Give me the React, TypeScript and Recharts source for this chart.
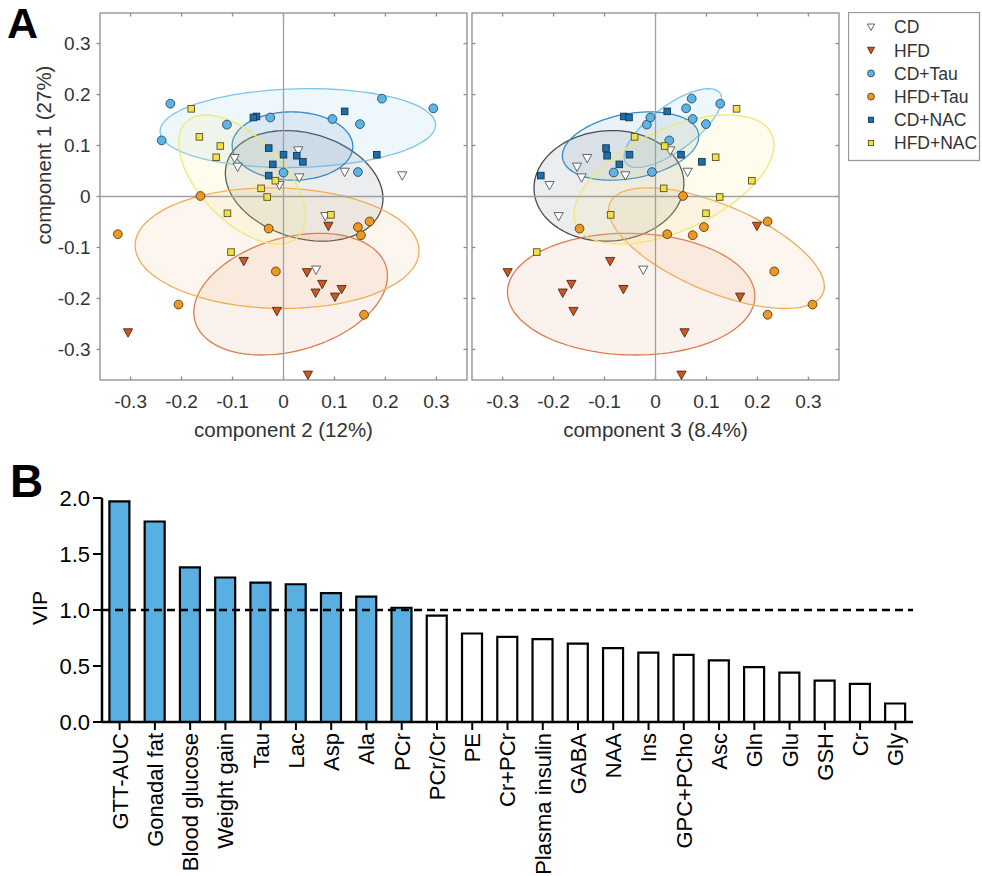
import React from 'react';
import {
  Bar,
  BarChart,
  Cell,
  Customized,
  ReferenceArea,
  ReferenceLine,
  Scatter,
  ScatterChart,
  XAxis,
  YAxis,
} from 'recharts';

// PLS-DA scores: comp1 is the vertical axis of both panels,
// comp2 the horizontal axis of the left panel, comp3 of the right one.
const cdComp1 = [0.09, 0.075, 0.058, 0.037, 0.048, 0.041, 0.022, -0.039, -0.144];
const cdComp2 = [0.029, -0.096, -0.09, 0.031, 0.12, 0.233, -0.008, 0.082, 0.064];
const cdComp3 = [0.029, -0.134, -0.154, -0.145, 0.063, -0.059, -0.208, -0.19, -0.024];

const hfdComp1 = [-0.058, -0.127, -0.149, -0.172, -0.189, -0.182, -0.197, -0.225, -0.267, -0.35];
const hfdComp2 = [0.088, -0.078, 0.046, 0.076, 0.063, 0.114, 0.101, -0.013, -0.305, 0.048];
const hfdComp3 = [0.199, -0.089, -0.29, -0.165, -0.182, -0.063, 0.166, -0.161, 0.057, 0.051];

const cdTauComp1 = [0.182, 0.192, 0.173, 0.11, 0.141, 0.155, 0.152, 0.142, 0.047, 0.048];
const cdTauComp2 = [-0.222, 0.193, 0.294, -0.239, -0.111, -0.026, 0.096, 0.15, 0.0, 0.146];
const cdTauComp3 = [0.127, 0.071, 0.06, 0.027, -0.017, -0.01, 0.073, 0.099, -0.082, -0.007];

const hfdTauComp1 = [0.001, -0.074, -0.063, -0.06, -0.049, -0.076, -0.147, -0.212, -0.232];
const hfdTauComp2 = [-0.163, -0.325, -0.029, 0.146, 0.169, 0.152, -0.015, -0.206, 0.158];
const hfdTauComp3 = [0.054, 0.023, -0.149, 0.095, 0.22, 0.073, 0.233, 0.308, 0.22];

const cdNacComp1 = [0.157, 0.155, 0.167, 0.095, 0.08, 0.082, 0.082, 0.063, 0.068, 0.041];
const cdNacComp2 = [-0.053, -0.059, 0.12, -0.029, 0.026, 0.0, 0.183, -0.021, 0.038, -0.029];
const cdNacComp3 = [-0.062, -0.052, 0.023, -0.097, -0.095, -0.051, 0.05, -0.071, 0.091, -0.225];

const hfdNacComp1 = [0.172, 0.117, 0.099, 0.077, 0.031, 0.016, -0.001, -0.033, -0.036, -0.109];
const hfdNacComp2 = [-0.181, -0.165, -0.124, -0.132, -0.016, -0.044, -0.032, -0.11, 0.093, -0.103];
const hfdNacComp3 = [0.159, -0.041, 0.018, 0.118, 0.189, 0.016, 0.126, 0.099, -0.088, -0.233];

const scoreTicks = [-0.3, -0.2, -0.1, 0, 0.1, 0.2, 0.3];

// VIP scores, sorted
const vipNames = [
  'GTT-AUC', 'Gonadal fat', 'Blood glucose', 'Weight gain', 'Tau', 'Lac', 'Asp', 'Ala', 'PCr',
  'PCr/Cr', 'PE', 'Cr+PCr', 'Plasma insulin', 'GABA', 'NAA', 'Ins', 'GPC+PCho', 'Asc', 'Gln',
  'Glu', 'GSH', 'Cr', 'Gly',
];
const vipValues = [
  1.97, 1.79, 1.38, 1.29, 1.245, 1.23, 1.15, 1.12, 1.02,
  0.95, 0.79, 0.76, 0.74, 0.7, 0.66, 0.62, 0.6, 0.55, 0.49,
  0.44, 0.37, 0.34, 0.165,
];
const vipTicks = [0, 0.5, 1, 1.5, 2];
const VIP_CUTOFF = 1;

const FONT = '"Liberation Sans", Arial, Helvetica, sans-serif';
const LIM = 0.36;
const FRAME = '#8e8e8e';
const INK = '#333';
// 68% confidence region of a bivariate normal: sqrt(chi2(2 dof, 0.68))
const ELLIPSE_K = 1.51;

type MarkerKind = 'tri' | 'circle' | 'square';

interface Group {
  name: string;
  comp1: number[];
  comp2: number[];
  comp3: number[];
  marker: MarkerKind;
  fill: string;
  edge: string;
  ring: string;
  tint: string;
}

const groups: Group[] = [
  { name: 'CD', comp1: cdComp1, comp2: cdComp2, comp3: cdComp3, marker: 'tri', fill: '#ffffff', edge: '#555', ring: '#4a4a4a', tint: 'rgba(110,115,125,0.13)' },
  { name: 'HFD', comp1: hfdComp1, comp2: hfdComp2, comp3: hfdComp3, marker: 'tri', fill: '#d0561f', edge: '#4a2a1a', ring: '#dd7a4e', tint: 'rgba(232,150,110,0.12)' },
  { name: 'CD+Tau', comp1: cdTauComp1, comp2: cdTauComp2, comp3: cdTauComp3, marker: 'circle', fill: '#5db5e6', edge: '#2a4a60', ring: '#7cc4ec', tint: 'rgba(140,200,236,0.15)' },
  { name: 'HFD+Tau', comp1: hfdTauComp1, comp2: hfdTauComp2, comp3: hfdTauComp3, marker: 'circle', fill: '#ea9a22', edge: '#5a3a10', ring: '#f0ac55', tint: 'rgba(242,182,112,0.12)' },
  { name: 'CD+NAC', comp1: cdNacComp1, comp2: cdNacComp2, comp3: cdNacComp3, marker: 'square', fill: '#1d6fab', edge: '#14344d', ring: '#3589c6', tint: 'rgba(60,120,182,0.10)' },
  { name: 'HFD+NAC', comp1: hfdNacComp1, comp2: hfdNacComp2, comp3: hfdNacComp3, marker: 'square', fill: '#f3e045', edge: '#5a5020', ring: '#f3e676', tint: 'rgba(246,236,130,0.14)' },
];

function Marker({ cx, cy, kind, fill, edge, scale = 1 }: {
  cx: number; cy: number; kind: MarkerKind; fill: string; edge: string; scale?: number;
}) {
  if (kind === 'tri') {
    const w = 4.6 * scale;
    return (
      <polygon
        points={`${cx - w},${cy - 3.8 * scale} ${cx + w},${cy - 3.8 * scale} ${cx},${cy + 4.6 * scale}`}
        fill={fill}
        stroke={edge}
        strokeWidth={0.9}
      />
    );
  }
  if (kind === 'circle') {
    return <circle cx={cx} cy={cy} r={4.4 * scale} fill={fill} stroke={edge} strokeWidth={0.9} />;
  }
  const s = 3.3 * scale;
  return <rect x={cx - s} y={cy - s} width={2 * s} height={2 * s} fill={fill} stroke={edge} strokeWidth={0.9} />;
}

/** Mean and covariance axes of a group's scores. */
function confidenceEllipse(xs: number[], ys: number[]) {
  const n = xs.length;
  const mx = xs.reduce((a, b) => a + b, 0) / n;
  const my = ys.reduce((a, b) => a + b, 0) / n;
  let sxx = 0;
  let syy = 0;
  let sxy = 0;
  for (let i = 0; i < n; i++) {
    sxx += (xs[i] - mx) ** 2;
    syy += (ys[i] - my) ** 2;
    sxy += (xs[i] - mx) * (ys[i] - my);
  }
  sxx /= n - 1;
  syy /= n - 1;
  sxy /= n - 1;
  const half = (sxx + syy) / 2;
  const root = Math.sqrt(Math.max(0, ((sxx - syy) / 2) ** 2 + sxy * sxy));
  const l1 = half + root;
  const l2 = Math.max(0, half - root);
  const theta = Math.abs(sxy) < 1e-12 ? (sxx >= syy ? 0 : Math.PI / 2) : Math.atan2(l1 - sxx, sxy);
  return { mx, my, a: ELLIPSE_K * Math.sqrt(l1), b: ELLIPSE_K * Math.sqrt(l2), theta };
}

interface AreaRect {
  x?: number;
  y?: number;
  width?: number;
  height?: number;
}

function domainMapper({ x = 0, y = 0, width = 0, height = 0 }: AreaRect) {
  return {
    px: (v: number) => x + ((v + LIM) / (2 * LIM)) * width,
    py: (v: number) => y + ((LIM - v) / (2 * LIM)) * height,
  };
}

function EllipseLayer(props: AreaRect & { axis: 'comp2' | 'comp3' }) {
  const { px, py } = domainMapper(props);
  return (
    <g>
      {groups.map((g) => {
        const e = confidenceEllipse(g[props.axis], g.comp1);
        const pts: string[] = [];
        for (let i = 0; i < 120; i++) {
          const t = (i / 120) * Math.PI * 2;
          const u = e.a * Math.cos(t);
          const v = e.b * Math.sin(t);
          const dx = u * Math.cos(e.theta) - v * Math.sin(e.theta);
          const dy = u * Math.sin(e.theta) + v * Math.cos(e.theta);
          pts.push(`${px(e.mx + dx).toFixed(2)},${py(e.my + dy).toFixed(2)}`);
        }
        return <polygon key={g.name} points={pts.join(' ')} fill={g.tint} stroke={g.ring} strokeWidth={1.3} />;
      })}
    </g>
  );
}

/** Box around a score panel, with short inward ticks (outward on the labelled left side). */
function FrameLayer(props: AreaRect & { labelledLeft: boolean }) {
  const { x = 0, y = 0, width = 0, height = 0, labelledLeft } = props;
  const { px, py } = domainMapper(props);
  const t = 3.5;
  const lines: React.ReactNode[] = [];
  scoreTicks.forEach((v, i) => {
    const cx = px(v);
    const cy = py(v);
    lines.push(<line key={`t${i}`} x1={cx} x2={cx} y1={y} y2={y + t} />);
    lines.push(<line key={`b${i}`} x1={cx} x2={cx} y1={y + height} y2={y + height - t} />);
    lines.push(<line key={`r${i}`} x1={x + width} x2={x + width - t} y1={cy} y2={cy} />);
    lines.push(
      <line key={`l${i}`} x1={x} x2={labelledLeft ? x - t : x + t} y1={cy} y2={cy} />,
    );
  });
  return (
    <g stroke={FRAME} strokeWidth={1.3}>
      <rect x={x} y={y} width={width} height={height} fill="none" />
      {lines}
    </g>
  );
}

const formatScore = (v: number) => (v === 0 ? '0' : v.toFixed(1));

function ScorePanel({ axis, labelled, title, width, marginLeft }: {
  axis: 'comp2' | 'comp3';
  labelled: boolean;
  title: string;
  width: number;
  marginLeft: number;
}) {
  const plotLeft = marginLeft + (labelled ? 100 : 0);
  const plotWidth = width - plotLeft - 3;
  return (
    <ScatterChart width={width} height={445} margin={{ top: 13, right: 3, bottom: 0, left: marginLeft }}>
      <XAxis
        type="number"
        dataKey="x"
        domain={[-LIM, LIM]}
        allowDataOverflow
        ticks={scoreTicks}
        tickFormatter={formatScore}
        tickLine={false}
        axisLine={false}
        tickSize={0}
        tickMargin={15}
        height={65}
        tick={{ fontSize: 19, fill: INK, fontFamily: FONT }}
      />
      <YAxis
        type="number"
        dataKey="y"
        domain={[-LIM, LIM]}
        allowDataOverflow
        ticks={scoreTicks}
        tickFormatter={formatScore}
        tickLine={false}
        axisLine={false}
        tickSize={3.5}
        tickMargin={6}
        width={100}
        hide={!labelled}
        tick={{ fontSize: 19, fill: INK, fontFamily: FONT }}
      />
      <ReferenceArea
        x1={-LIM}
        x2={LIM}
        y1={-LIM}
        y2={LIM}
        shape={(p: AreaRect) => <EllipseLayer {...p} axis={axis} />}
      />
      <ReferenceLine x={0} stroke="#a0a0a0" strokeWidth={1.3} />
      <ReferenceLine y={0} stroke="#a0a0a0" strokeWidth={1.3} />
      <ReferenceArea
        x1={-LIM}
        x2={LIM}
        y1={-LIM}
        y2={LIM}
        shape={(p: AreaRect) => <FrameLayer {...p} labelledLeft={labelled} />}
      />
      {groups.map((g) => (
        <Scatter
          key={g.name}
          name={g.name}
          data={g.comp1.map((c1, i) => ({ x: g[axis][i], y: c1 }))}
          isAnimationActive={false}
          shape={(p: { cx?: number; cy?: number }) => (
            <Marker cx={p.cx ?? 0} cy={p.cy ?? 0} kind={g.marker} fill={g.fill} edge={g.edge} />
          )}
        />
      ))}
      <Customized
        component={() => (
          <g fontFamily={FONT} fill={INK}>
            <text x={plotLeft + plotWidth / 2} y={437} textAnchor="middle" fontSize={20.5}>
              {title}
            </text>
            {labelled && (
              <>
                <text x={51} y={155} transform="rotate(-90 51 155)" textAnchor="middle" fontSize={20.5}>
                  component 1 (27%)
                </text>
                <text x={7} y={38} fontSize={43} fontWeight="bold" fill="#000">
                  A
                </text>
              </>
            )}
          </g>
        )}
      />
    </ScatterChart>
  );
}

function GroupLegend() {
  return (
    <svg width={133} height={150} style={{ fontFamily: FONT }}>
      <rect x={0.5} y={0.5} width={131} height={148} fill="#fff" stroke="#999" strokeWidth={1.3} />
      {groups.map((g, i) => {
        const cy = 15 + i * 23.2;
        return (
          <g key={g.name}>
            <Marker cx={23} cy={cy} kind={g.marker} fill={g.fill} edge={g.edge} scale={0.78} />
            <text x={46} y={cy + 6.3} fontSize={17.5} fill={INK}>
              {g.name}
            </text>
          </g>
        );
      })}
    </svg>
  );
}

function VipTick({ x = 0, y = 0, payload }: { x?: number; y?: number; payload?: { value: string } }) {
  return (
    <g transform={`translate(${x},${y})`}>
      <text transform="rotate(-90)" textAnchor="end" dy="0.36em" fontSize={22} fontFamily={FONT} fill="#000">
        {payload?.value}
      </text>
    </g>
  );
}

function VipChart() {
  const rows = vipNames.map((name, i) => ({ name, vip: vipValues[i] }));
  return (
    <BarChart
      width={982}
      height={436}
      data={rows}
      margin={{ top: 58, right: 69, bottom: 0, left: 0 }}
      barCategoryGap="21%"
    >
      <XAxis
        dataKey="name"
        interval={0}
        height={154}
        tickSize={8}
        tickMargin={3}
        tick={<VipTick />}
        tickLine={{ stroke: '#000', strokeWidth: 2 }}
        axisLine={{ stroke: '#000', strokeWidth: 2.5 }}
      />
      <YAxis
        type="number"
        domain={[0, 2]}
        ticks={vipTicks}
        tickFormatter={(v: number) => v.toFixed(1)}
        width={102}
        tickSize={9}
        tickMargin={3}
        tick={{ fontSize: 22, fill: '#000', fontFamily: FONT }}
        tickLine={{ stroke: '#000', strokeWidth: 2 }}
        axisLine={{ stroke: '#000', strokeWidth: 2.5 }}
      />
      <Bar dataKey="vip" stroke="#000" strokeWidth={2.2} isAnimationActive={false}>
        {rows.map((r) => (
          <Cell key={r.name} fill={r.vip > VIP_CUTOFF ? '#5aafe2' : '#ffffff'} />
        ))}
      </Bar>
      <ReferenceLine y={VIP_CUTOFF} stroke="#000" strokeWidth={2.5} strokeDasharray="8 5" />
      <Customized
        component={() => (
          <g fontFamily={FONT} fill="#000">
            <text x={47} y={168} transform="rotate(-90 47 168)" textAnchor="middle" fontSize={21}>
              VIP
            </text>
            <text x={10} y={57} fontSize={46} fontWeight="bold">
              B
            </text>
          </g>
        )}
      />
    </BarChart>
  );
}

export default function App() {
  return (
    <div
      style={{
        position: 'absolute',
        left: 0,
        top: 0,
        width: 982,
        height: 876,
        background: '#fff',
        fontFamily: FONT,
        overflow: 'hidden',
      }}
    >
      <div style={{ position: 'absolute', left: 0, top: 0 }}>
        <ScorePanel axis="comp2" labelled title="component 2 (12%)" width={470} marginLeft={0} />
      </div>
      <div style={{ position: 'absolute', left: 440, top: 0 }}>
        <ScorePanel axis="comp3" labelled={false} title="component 3 (8.4%)" width={402} marginLeft={32} />
      </div>
      <div style={{ position: 'absolute', left: 848, top: 12 }}>
        <GroupLegend />
      </div>
      <div style={{ position: 'absolute', left: 0, top: 440 }}>
        <VipChart />
      </div>
    </div>
  );
}
